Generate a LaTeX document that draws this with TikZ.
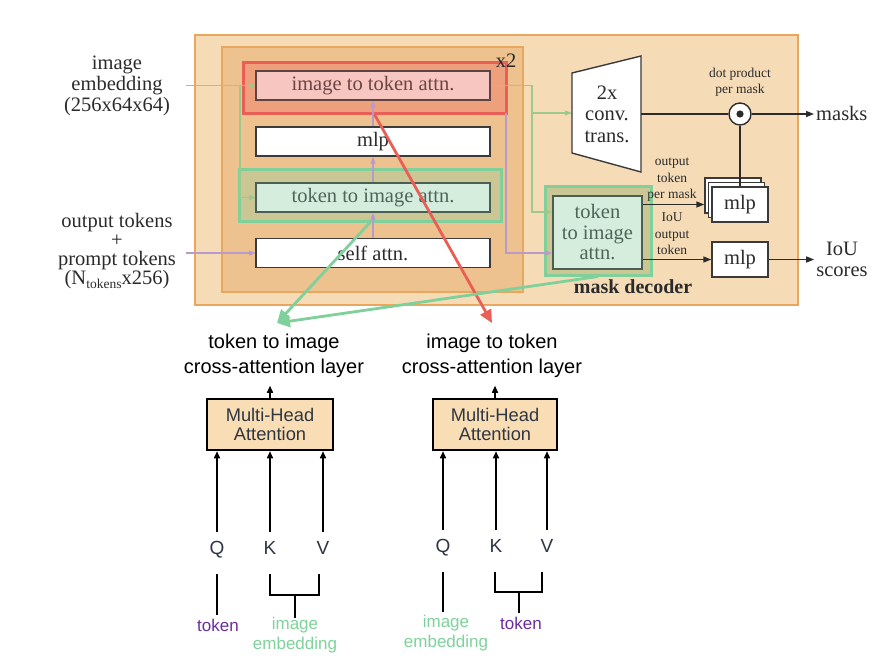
\documentclass[tikz,border=0pt]{standalone}
\usepackage{fontspec}
\setmainfont{Liberation Serif}
\newfontfamily\arialf{Liberation Sans}
\usetikzlibrary{arrows.meta}
\definecolor{outerfill}{HTML}{F5DCB7}
\definecolor{orangeb}{HTML}{E9A75E}
\definecolor{innerfill}{HTML}{EDC28F}
\definecolor{redhl}{HTML}{E95F57}
\definecolor{redfill}{HTML}{EDA07B}
\definecolor{pinkbox}{HTML}{F7C6C1}
\definecolor{pinkb}{HTML}{5E4343}
\definecolor{pinktxt}{HTML}{6B4444}
\definecolor{greenhl}{HTML}{7FD09B}
\definecolor{greenfill}{HTML}{CBC795}
\definecolor{mintbox}{HTML}{D4EDDD}
\definecolor{mintb}{HTML}{4C5E53}
\definecolor{minttxt}{HTML}{4E6457}
\definecolor{lgreen}{HTML}{9DCA8B}
\definecolor{lpurple}{HTML}{B99BC9}
\definecolor{txt}{HTML}{2B2B2B}
\definecolor{boxb}{HTML}{3A3A3A}
\definecolor{mhafill}{HTML}{F9DDB5}
\definecolor{tokpurple}{HTML}{6B2D9C}
\definecolor{embgreen}{HTML}{7FD29C}
\definecolor{qkv}{HTML}{2F3642}
\tikzset{
  bigf/.style={font=\fontsize{20.5}{21}\selectfont},
  smallf/.style={font=\fontsize{13.5}{16.5}\selectfont},
  container/.style={line width=2.5pt, draw=orangeb, inner sep=0pt},
  hl/.style={line width=3pt, inner sep=0pt},
  tbox/.style={draw=boxb, line width=1.4pt, fill=white, minimum width=234pt, minimum height=29pt, inner sep=0pt, text=txt, bigf},
  mlpbox/.style={draw=boxb, line width=1.4pt, fill=white, minimum width=56pt, minimum height=35pt, inner sep=0pt, text=txt, bigf},
  gline/.style={draw=lgreen, line width=1.1pt, -{Triangle[length=7pt,width=5pt]}},
  pline/.style={draw=lpurple, line width=1.1pt, -{Triangle[length=7pt,width=5pt]}},
  barr/.style={draw=txt, line width=1.4pt, -{Triangle[length=8pt,width=6pt]}},
  bplain/.style={draw=txt, line width=1.4pt},
  rcon/.style={draw=redhl, line width=2.8pt, -{Triangle[length=13pt,width=12pt]}},
  gcon/.style={draw=greenhl, line width=2.8pt, -{Triangle[length=13pt,width=12pt]}},
  mha/.style={draw=black, line width=2.5pt, fill=mhafill, minimum width=126pt, minimum height=51pt, inner sep=0pt, align=center, font=\arialf\fontsize{18.3}{19}\selectfont, text=qkv},
  sarr/.style={draw=black, line width=1.5pt, -{Triangle[length=7pt,width=6pt]}},
  qkvf/.style={font=\arialf\fontsize{19}{19}\selectfont, text=qkv, inner sep=0pt, text height=13.5pt, text depth=0pt},
  brk/.style={draw=black, line width=2.6pt},
  lab/.style={font=\arialf\fontsize{17}{20}\selectfont, inner sep=1pt, align=center},
  titlef/.style={font=\arialf\fontsize{20}{25}\selectfont, align=center, text=black}
}
\begin{document}
\begin{tikzpicture}[x=1pt,y=-1pt]
\useasboundingbox (0,0) rectangle (891,665);
\fill[white] (0,0) rectangle (891,665);

% containers
\node[container, fill=outerfill, minimum width=603pt, minimum height=270pt] (decoder) at (496.5,170) {};
\node[container, fill=innerfill, minimum width=301pt, minimum height=245pt] (loop) at (372.5,169.5) {};
\node[hl, draw=redhl, fill=redfill, minimum width=263pt, minimum height=51pt] (redbox) at (374.5,87.5) {};
\node[hl, draw=greenhl, fill=greenfill, minimum width=262pt, minimum height=52pt] (greenbox) at (370,195) {};
\node[hl, draw=greenhl, fill=greenfill, minimum width=106pt, minimum height=89pt] (rgreenbox) at (598,230.5) {};
\node[bigf, text=txt, inner sep=0pt] (rep) at (506,61) {x2};

% input labels
\node[bigf, align=center, text=txt] (emb) at (117,86) {image\\embedding\\(256x64x64)};
\node[align=center, text=txt, font=\fontsize{20.5}{19}\selectfont] (toks) at (117,251) {output tokens\\+\\prompt tokens\\(N\raisebox{-4pt}{\fontsize{13.5}{13.5}\selectfont tokens}x256)};
\coordinate (gin) at (186,85.5);
\coordinate (gsplit) at (240,85.5);
\coordinate (pin) at (186,253);

% thin connectors (left)
\draw[gline] (gin) -- (gsplit) -- (256,85.5);
\coordinate (tti_in) at (240,197.5);
\draw[gline] (gsplit) -- (tti_in) -- (256,197.5);
\draw[pline] (pin) -- (256,253);

% layer boxes
\node[tbox, fill=pinkbox, draw=pinkb, text=pinktxt] (itt) at (373,85.5) {image to token attn.};
\node[tbox] (mlp1) at (373,141.5) {mlp};
\node[tbox, fill=mintbox, draw=mintb, text=minttxt] (tti) at (373,197.5) {token to image attn.};
\node[tbox] (self) at (373,253) {self attn.};
\node[draw=mintb, line width=1.4pt, fill=mintbox, text=minttxt, minimum width=89pt, minimum height=73pt, inner sep=0pt, align=center, font=\fontsize{20.5}{20.5}\selectfont] (rtti) at (597.5,232.5) {token\\to image\\attn.};

\draw[pline] (self.north) -- (tti.south);
\draw[pline] (tti.north) -- (mlp1.south);
\draw[pline] (mlp1.north) -- (itt.south);

% right side thin connectors
\coordinate (gr) at (532,85.5);
\coordinate (gbr) at (532,113);
\coordinate (pr) at (506,113);
\coordinate (pr2) at (506,253);
\draw[gline] (itt.east) -- (gr) |- ([yshift=20.5pt]rtti.west);
\draw[gline] (gbr) -- (572,113);
\draw[pline] (pr) -- (pr2) -- (rtti.west |- pr2);

% conv trans
\coordinate (tA) at (572,73);
\coordinate (tB) at (641,56);
\coordinate (tC) at (641,172);
\coordinate (tD) at (572,153);
\draw[draw=boxb, line width=1.4pt, fill=white] (tA) -- (tB) -- (tC) -- (tD) -- cycle;
\node[align=center, text=txt, font=\fontsize{20.5}{21.5}\selectfont] (conv) at (607,114) {2x\\conv.\\trans.};
\coordinate (convR) at (641,114);

% dot product
\node[circle, draw=txt, line width=1.4pt, fill=white, minimum size=22pt, inner sep=0pt] (dotp) at (740,114) {};
\fill[txt] (dotp.center) circle (3.6pt);
\node[smallf, align=center, text=txt] (dplabel) at (740,82) {dot product\\per mask};
\draw[bplain] (convR) -- (dotp);
\node[bigf, text=txt, anchor=west, inner sep=2pt] (masks) at (814,113) {masks};
\draw[barr] (dotp) -- (masks.west |- dotp);

% mlp stack
\node[mlpbox] (mlpC) at (733,195.5) {};
\node[mlpbox] (mlpB) at (736.5,200) {};
\draw[bplain] (dotp) -- (740,187);
\node[mlpbox] (mlpA) at (740,204.5) {mlp};
\node[mlpbox] (mlp2) at (740,259.5) {mlp};

\draw[barr] (rtti.east |- mlpA.west) -- (mlpC.west |- mlpA.west);
\draw[barr] (rtti.east |- mlp2.west) -- (mlp2.west);
\node[smallf, align=center, text=txt] (otlabel) at (672,180) {output\\token\\per mask};
\node[smallf, align=center, text=txt] (ioulabel) at (672,234) {IoU\\output\\token};
\node[align=center, text=txt, font=\fontsize{20.5}{21}\selectfont, inner sep=2pt] (iou) at (842,259) {IoU\\scores};
\draw[barr] (mlp2.east) -- (iou.west |- mlp2.east);
\node[text=txt, font=\bfseries\fontsize{20}{20}\selectfont] (mdlabel) at (633,287) {mask decoder};

% bottom titles
\node[titlef] (t1) at (274,355.5) {token to image\\cross-attention layer};
\node[titlef] (t2) at (492,355.5) {image to token\\cross-attention layer};
\coordinate (gtip) at (277,323);
\coordinate (rtip) at (492,323);

% highlight connectors
\draw[rcon] (redbox.south) -- (rtip);
\draw[gcon] (greenbox.south) -- (gtip);
\draw[gcon] (rgreenbox.south) -- (gtip);

% MHA blocks
\node[mha] (mha1) at (270,424.5) {Multi-Head\\Attention};
\node[mha, minimum width=124pt] (mha2) at (495,424.5) {Multi-Head\\Attention};
\draw[sarr] (mha1.north) -- ++(0,-12);
\draw[sarr] (mha2.north) -- ++(0,-12);

\node[qkvf] (Q1) at (217,548) {Q};
\node[qkvf] (K1) at (270,548) {K};
\node[qkvf] (V1) at (323,548) {V};
\node[qkvf] (Q2) at (443,546) {Q};
\node[qkvf] (K2) at (496,546) {K};
\node[qkvf] (V2) at (547,546) {V};
\foreach \n/\m in {Q1/mha1,K1/mha1,V1/mha1,Q2/mha2,K2/mha2,V2/mha2}{
  \draw[sarr] ([yshift=9pt]\n.north) -- (\n.north |- \m.south);
}

% labels
\node[lab, text=tokpurple] (tok1) at (218,625) {token};
\node[lab, text=embgreen] (emb1) at (295,635) {image\\embedding};
\node[lab, text=embgreen] (emb2) at (446,633) {image\\embedding};
\node[lab, text=tokpurple] (tok2) at (521,623) {token};

% brackets
\draw[brk] (217,574) -- (217,615);
\draw[brk] (270,574) -- (270,595) -- (319,595) -- (319,574);
\draw[brk] (295,595) -- (295,618);
\draw[brk] (443,572) -- (443,612);
\draw[brk] (495,572) -- (495,592) -- (542,592) -- (542,572);
\draw[brk] (519,592) -- (519,613);
\end{tikzpicture}
\end{document}
